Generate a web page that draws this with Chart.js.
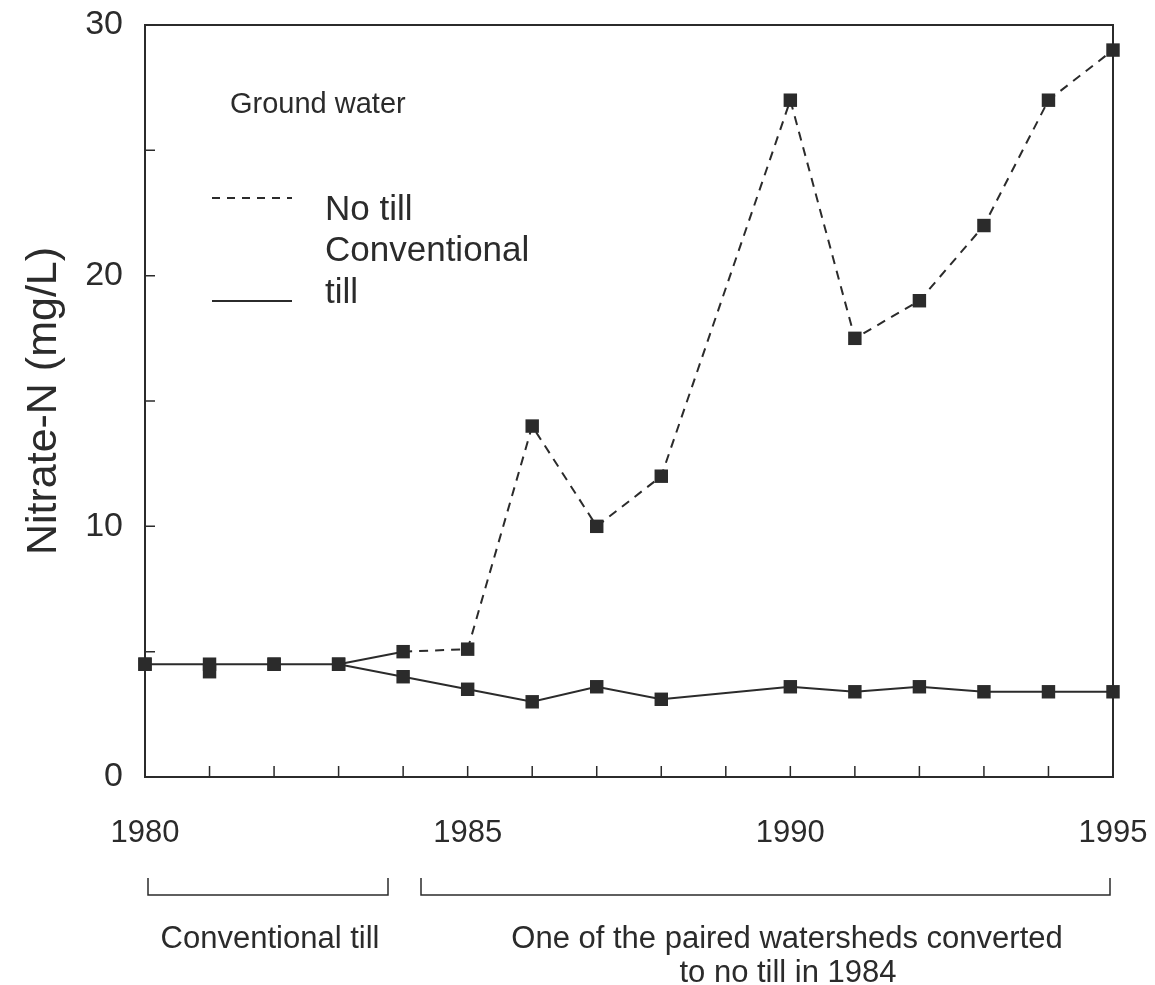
<!DOCTYPE html>
<html>
<head>
<meta charset="utf-8">
<script src="https://cdn.jsdelivr.net/npm/chart.js@4"></script>
<style>
  body { margin: 0; background: #fff; }
  #wrap { width: 1155px; height: 985px; }
</style>
</head>
<body>
<div id="wrap"><canvas id="grafica"></canvas></div>
<script>
// years sampled (no 1989 sample)
const anios = [1980, 1981, 1982, 1983, 1984, 1985, 1986, 1987, 1988, 1990, 1991, 1992, 1993, 1994, 1995];
// watershed converted to no till in 1984 (conventional before)
const noLabranza = [4.5, 4.2, 4.5, 4.5, 5.0, 5.1, 14.0, 10.0, 12.0, 27.0, 17.5, 19.0, 22.0, 27.0, 29.0];
// watershed kept under conventional till
const convencional = [4.5, 4.5, 4.5, 4.5, 4.0, 3.5, 3.0, 3.6, 3.1, 3.6, 3.4, 3.6, 3.4, 3.4, 3.4];
const ticksX = [1980, 1985, 1990, 1995];
const ticksY = [0, 10, 20, 30];

const tinta = '#2b2b2b';
const fuente = "'Liberation Sans', Arial, Helvetica, sans-serif";

const puntos = (vals) => anios.map((a, i) => ({ x: a, y: vals[i] }));

// box, inward ticks, legend and period brackets
const extras = {
    id: 'extras',
    afterDraw(chart) {
        const ctx = chart.ctx;
        const area = chart.chartArea;
        const sx = chart.scales.x;
        const sy = chart.scales.y;
        ctx.save();
        ctx.strokeStyle = tinta;
        ctx.lineWidth = 2;
        ctx.strokeRect(area.left, area.top, area.right - area.left, area.bottom - area.top);

        ctx.lineWidth = 1.5;
        ctx.beginPath();
        for (let a = 1980; a <= 1995; a++) {
            const px = sx.getPixelForValue(a);
            ctx.moveTo(px, area.bottom);
            ctx.lineTo(px, area.bottom - 11);
        }
        for (let v = 0; v <= 30; v += 5) {
            const py = sy.getPixelForValue(v);
            ctx.moveTo(area.left, py);
            ctx.lineTo(area.left + 10, py);
        }
        ctx.stroke();

        // legend
        ctx.fillStyle = tinta;
        ctx.textBaseline = 'middle';
        ctx.textAlign = 'left';
        ctx.font = '29px ' + fuente;
        ctx.fillText('Ground water', 230, 105);
        ctx.font = '35px ' + fuente;
        ctx.fillText('No till', 325, 210);
        ctx.fillText('Conventional', 325, 251);
        ctx.fillText('till', 325, 293);
        ctx.lineWidth = 2;
        ctx.setLineDash([8, 7]);
        ctx.beginPath();
        ctx.moveTo(212, 198);
        ctx.lineTo(292, 198);
        ctx.stroke();
        ctx.setLineDash([]);
        ctx.beginPath();
        ctx.moveTo(212, 301);
        ctx.lineTo(292, 301);
        ctx.stroke();

        // period brackets under the axis
        const corchete = (x0, x1) => {
            ctx.beginPath();
            ctx.moveTo(x0, 878);
            ctx.lineTo(x0, 895);
            ctx.lineTo(x1, 895);
            ctx.lineTo(x1, 878);
            ctx.stroke();
        };
        ctx.lineWidth = 1.5;
        corchete(148, 388);
        corchete(421, 1110);
        ctx.font = '31px ' + fuente;
        ctx.textAlign = 'center';
        ctx.fillText('Conventional till', 270, 939);
        ctx.fillText('One of the paired watersheds converted', 787, 939);
        ctx.fillText('to no till in 1984', 788, 973);
        ctx.restore();
    }
};

const grafica = new Chart(document.getElementById('grafica'), {
    type: 'line',
    data: {
        datasets: [
            {
                label: 'No till',
                data: puntos(noLabranza),
                borderColor: tinta,
                backgroundColor: tinta,
                borderWidth: 2,
                borderDash: [9, 7],
                pointStyle: 'rect',
                pointRadius: 9.5,
                pointBorderWidth: 0,
                clip: false,
                segment: {
                    borderColor: c => c.p0.parsed.x < 1983 ? 'rgba(0,0,0,0)' : tinta,
                    borderDash: c => c.p0.parsed.x < 1984 ? [] : [9, 7]
                }
            },
            {
                label: 'Conventional till',
                data: puntos(convencional),
                borderColor: tinta,
                backgroundColor: tinta,
                borderWidth: 2,
                pointStyle: 'rect',
                pointRadius: 9.5,
                pointBorderWidth: 0,
                clip: false
            }
        ]
    },
    options: {
        responsive: true,
        maintainAspectRatio: false,
        animation: false,
        events: [],
        layout: { padding: { left: 0, right: 42, top: 25, bottom: 0 } },
        plugins: {
            legend: { display: false },
            tooltip: { enabled: false }
        },
        scales: {
            x: {
                type: 'linear',
                min: 1980,
                max: 1995,
                afterBuildTicks: s => { s.ticks = ticksX.map(v => ({ value: v })); },
                afterFit: s => { s.height = 208; s.paddingLeft = 0; s.paddingRight = 0; },
                grid: { display: false, drawTicks: false },
                border: { display: false },
                ticks: {
                    color: tinta,
                    padding: 38,
                    maxRotation: 0,
                    callback: v => String(v),
                    font: { size: 31, family: fuente }
                }
            },
            y: {
                min: 0,
                max: 30,
                afterBuildTicks: s => { s.ticks = ticksY.map(v => ({ value: v })); },
                afterFit: s => { s.width = 145; s.paddingTop = 0; s.paddingBottom = 0; },
                grid: { display: false, drawTicks: false },
                border: { display: false },
                ticks: {
                    color: tinta,
                    padding: 22,
                    font: { size: 34, family: fuente }
                },
                title: {
                    display: true,
                    text: 'Nitrate-N (mg/L)',
                    color: tinta,
                    padding: { top: 18, bottom: 0 },
                    font: { size: 43, family: fuente }
                }
            }
        }
    },
    plugins: [extras]
});
</script>
</body>
</html>
